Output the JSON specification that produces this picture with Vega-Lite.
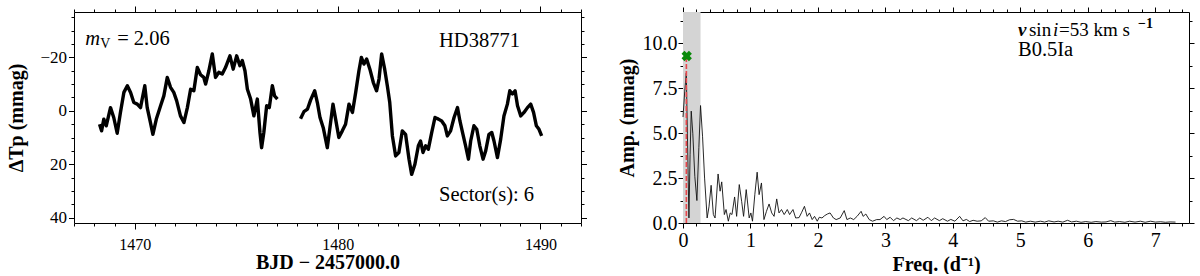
{
  "$schema": "https://vega.github.io/schema/vega-lite/v6.json",
  "padding": {"left": 6, "top": 5, "right": 5, "bottom": 0},
  "spacing": 102,
  "bounds": "flush",
  "config": {
    "font": "Liberation Serif",
    "view": {"stroke": null},
    "axis": {
      "grid": false, "domainColor": "black", "tickColor": "black", "labelColor": "black", "titleColor": "black",
      "labelFont": "Liberation Serif", "titleFont": "Liberation Serif", "labelFontSize": 16, "titleFontSize": 20,
      "titleFontWeight": "bold", "domainWidth": 1, "tickWidth": 1, "labelFlush": false, "labelOverlap": false
    },
    "text": {"font": "Liberation Serif", "color": "black"}
  },
  "hconcat": [
    {
      "width": 507, "height": 211,
      "data": {"values": [
        {"t":1468.26,"m":5.0,"s":1},{"t":1468.36,"m":7.5,"s":1},{"t":1468.47,"m":3.1,"s":1},{"t":1468.59,"m":5.6,"s":1},{"t":1468.80,"m":-1.2,"s":1},{"t":1468.96,"m":2.5,"s":1},{"t":1469.13,"m":8.4,"s":1},{"t":1469.29,"m":0.6,"s":1},{"t":1469.46,"m":-6.9,"s":1},{"t":1469.63,"m":-9.4,"s":1},{"t":1469.79,"m":-6.9,"s":1},{"t":1469.95,"m":-3.1,"s":1},{"t":1470.12,"m":-2.5,"s":1},{"t":1470.28,"m":-1.2,"s":1},{"t":1470.49,"m":-9.4,"s":1},{"t":1470.61,"m":-1.2,"s":1},{"t":1470.77,"m":4.4,"s":1},{"t":1470.89,"m":8.8,"s":1},{"t":1471.06,"m":3.1,"s":1},{"t":1471.27,"m":-1.9,"s":1},{"t":1471.43,"m":-5.6,"s":1},{"t":1471.60,"m":-12.5,"s":1},{"t":1471.76,"m":-8.8,"s":1},{"t":1471.92,"m":-6.9,"s":1},{"t":1472.06,"m":-3.8,"s":1},{"t":1472.25,"m":1.9,"s":1},{"t":1472.42,"m":4.4,"s":1},{"t":1472.59,"m":-1.2,"s":1},{"t":1472.75,"m":-8.1,"s":1},{"t":1472.91,"m":-7.5,"s":1},{"t":1473.08,"m":-16.2,"s":1},{"t":1473.24,"m":-13.5,"s":1},{"t":1473.40,"m":-12.5,"s":1},{"t":1473.49,"m":-10.0,"s":1},{"t":1473.65,"m":-15.0,"s":1},{"t":1473.82,"m":-21.3,"s":1},{"t":1473.98,"m":-12.5,"s":1},{"t":1474.14,"m":-14.4,"s":1},{"t":1474.31,"m":-13.8,"s":1},{"t":1474.47,"m":-16.2,"s":1},{"t":1474.69,"m":-20.6,"s":1},{"t":1474.85,"m":-15.6,"s":1},{"t":1475.02,"m":-20.6,"s":1},{"t":1475.18,"m":-16.9,"s":1},{"t":1475.30,"m":-18.8,"s":1},{"t":1475.43,"m":-15.0,"s":1},{"t":1475.55,"m":-8.1,"s":1},{"t":1475.71,"m":-4.4,"s":1},{"t":1475.87,"m":1.9,"s":1},{"t":1476.04,"m":-4.4,"s":1},{"t":1476.17,"m":8.1,"s":1},{"t":1476.25,"m":13.8,"s":1},{"t":1476.36,"m":8.1,"s":1},{"t":1476.50,"m":-1.9,"s":1},{"t":1476.63,"m":-1.2,"s":1},{"t":1476.78,"m":-9.4,"s":1},{"t":1476.89,"m":-5.6,"s":1},{"t":1477.03,"m":-4.4,"s":1},
        {"t":1478.17,"m":3.0,"s":2},{"t":1478.34,"m":0.3,"s":2},{"t":1478.51,"m":-0.6,"s":2},{"t":1478.67,"m":-4.1,"s":2},{"t":1478.87,"m":-7.5,"s":2},{"t":1479.00,"m":-3.1,"s":2},{"t":1479.13,"m":2.5,"s":2},{"t":1479.29,"m":6.3,"s":2},{"t":1479.49,"m":13.8,"s":2},{"t":1479.62,"m":6.3,"s":2},{"t":1479.77,"m":-2.5,"s":2},{"t":1479.90,"m":3.1,"s":2},{"t":1480.06,"m":10.0,"s":2},{"t":1480.23,"m":7.5,"s":2},{"t":1480.39,"m":5.0,"s":2},{"t":1480.56,"m":-2.5,"s":2},{"t":1480.73,"m":0.6,"s":2},{"t":1480.89,"m":-6.9,"s":2},{"t":1481.05,"m":-15.0,"s":2},{"t":1481.17,"m":-20.0,"s":2},{"t":1481.30,"m":-17.5,"s":2},{"t":1481.43,"m":-19.4,"s":2},{"t":1481.59,"m":-15.6,"s":2},{"t":1481.76,"m":-10.6,"s":2},{"t":1481.92,"m":-7.5,"s":2},{"t":1482.04,"m":-11.9,"s":2},{"t":1482.17,"m":-21.3,"s":2},{"t":1482.32,"m":-15.6,"s":2},{"t":1482.45,"m":-9.4,"s":2},{"t":1482.57,"m":-3.1,"s":2},{"t":1482.70,"m":9.4,"s":2},{"t":1482.86,"m":16.9,"s":2},{"t":1483.02,"m":15.6,"s":2},{"t":1483.19,"m":7.5,"s":2},{"t":1483.35,"m":8.8,"s":2},{"t":1483.52,"m":18.1,"s":2},{"t":1483.65,"m":23.8,"s":2},{"t":1483.81,"m":20.0,"s":2},{"t":1483.98,"m":13.1,"s":2},{"t":1484.09,"m":11.3,"s":2},{"t":1484.21,"m":15.6,"s":2},{"t":1484.34,"m":13.1,"s":2},{"t":1484.47,"m":14.4,"s":2},{"t":1484.64,"m":8.1,"s":2},{"t":1484.80,"m":2.5,"s":2},{"t":1484.97,"m":3.1,"s":2},{"t":1485.13,"m":3.8,"s":2},{"t":1485.29,"m":5.6,"s":2},{"t":1485.41,"m":9.4,"s":2},{"t":1485.57,"m":7.5,"s":2},{"t":1485.74,"m":2.5,"s":2},{"t":1485.91,"m":-1.2,"s":2},{"t":1486.03,"m":3.8,"s":2},{"t":1486.18,"m":8.8,"s":2},{"t":1486.31,"m":13.1,"s":2},{"t":1486.45,"m":18.1,"s":2},{"t":1486.56,"m":11.3,"s":2},{"t":1486.72,"m":5.6,"s":2},{"t":1486.86,"m":6.9,"s":2},{"t":1487.01,"m":13.1,"s":2},{"t":1487.17,"m":18.1,"s":2},{"t":1487.30,"m":15.0,"s":2},{"t":1487.46,"m":8.8,"s":2},{"t":1487.60,"m":8.1,"s":2},{"t":1487.71,"m":11.3,"s":2},{"t":1487.88,"m":17.5,"s":2},{"t":1488.04,"m":10.6,"s":2},{"t":1488.20,"m":1.9,"s":2},{"t":1488.37,"m":-2.5,"s":2},{"t":1488.49,"m":-7.5,"s":2},{"t":1488.62,"m":-6.3,"s":2},{"t":1488.75,"m":-7.5,"s":2},{"t":1488.87,"m":-1.9,"s":2},{"t":1489.03,"m":1.9,"s":2},{"t":1489.19,"m":0.6,"s":2},{"t":1489.36,"m":-1.2,"s":2},{"t":1489.52,"m":-2.5,"s":2},{"t":1489.66,"m":0.6,"s":2},{"t":1489.80,"m":5.6,"s":2},{"t":1489.93,"m":6.9,"s":2},{"t":1490.06,"m":9.4,"s":2}
      ]},
      "layer": [
        {
          "mark": {"type": "line", "color": "black", "strokeWidth": 3.4, "strokeJoin": "round"},
          "encoding": {
            "x": {"field": "t", "type": "quantitative", "scale": {"domain": [1467, 1492], "nice": false, "zero": false},
              "axis": {"orient": "bottom", "title": "BJD − 2457000.0",
                "values": [1467,1468,1469,1470,1471,1472,1473,1474,1475,1476,1477,1478,1479,1480,1481,1482,1483,1484,1485,1486,1487,1488,1489,1490,1491,1492],
                "labelExpr": "datum.value % 10 === 0 ? format(datum.value, 'd') : ''",
                "tickSize": {"condition": {"test": "datum.value % 10 === 0", "value": 6}, "value": 3},
                "labelFontSize": 16, "labelPadding": 7, "titlePadding": 0}},
            "y": {"field": "m", "type": "quantitative", "scale": {"domain": [-37, 42], "reverse": true, "nice": false, "zero": false},
              "axis": {"orient": "left", "title": "ΔTp (mmag)",
                "values": [-35,-30,-25,-20,-15,-10,-5,0,5,10,15,20,25,30,35,40],
                "labelExpr": "datum.value % 20 === 0 ? datum.label : ''",
                "tickSize": {"condition": {"test": "datum.value % 20 === 0", "value": 5.5}, "value": 3},
                "labelFontSize": 17, "labelPadding": 2, "titlePadding": 13}},
            "detail": {"field": "s", "type": "nominal"}
          }
        },
        {
          "data": {"values": [{"x": 1485.0, "y": -23.8, "label": "HD38771"}, {"x": 1485.0, "y": 33.9, "label": "Sector(s): 6"}]},
          "mark": {"type": "text", "align": "left", "baseline": "alphabetic", "fontSize": 20.5},
          "encoding": {
            "x": {"field": "x", "type": "quantitative",
              "axis": {"orient": "top", "title": null, "labels": false,
                "values": [1467,1468,1469,1470,1471,1472,1473,1474,1475,1476,1477,1478,1479,1480,1481,1482,1483,1484,1485,1486,1487,1488,1489,1490,1491,1492],
                "tickSize": {"condition": {"test": "datum.value % 10 === 0", "value": 6}, "value": 3}}},
            "y": {"field": "y", "type": "quantitative",
              "axis": {"orient": "right", "title": null, "labels": false,
                "values": [-35,-30,-25,-20,-15,-10,-5,0,5,10,15,20,25,30,35,40],
                "tickSize": {"condition": {"test": "datum.value % 20 === 0", "value": 5.5}, "value": 3}}},
            "text": {"field": "label"}
          }
        },
        {
          "data": {"values": [{"x": 1467.55, "y": -24.6, "label": "m"}]},
          "mark": {"type": "text", "align": "left", "baseline": "alphabetic", "fontSize": 20.5, "fontStyle": "italic"},
          "encoding": {"x": {"field": "x", "type": "quantitative", "axis": null}, "y": {"field": "y", "type": "quantitative", "axis": null}, "text": {"field": "label"}}
        },
        {
          "data": {"values": [{"x": 1467.55, "y": -24.6, "label": "V"}]},
          "mark": {"type": "text", "align": "left", "baseline": "alphabetic", "fontSize": 14, "dx": 15, "dy": 3},
          "encoding": {"x": {"field": "x", "type": "quantitative", "axis": null}, "y": {"field": "y", "type": "quantitative", "axis": null}, "text": {"field": "label"}}
        },
        {
          "data": {"values": [{"x": 1467.55, "y": -24.6, "label": "= 2.06"}]},
          "mark": {"type": "text", "align": "left", "baseline": "alphabetic", "fontSize": 20.5, "dx": 32},
          "encoding": {"x": {"field": "x", "type": "quantitative", "axis": null}, "y": {"field": "y", "type": "quantitative", "axis": null}, "text": {"field": "label"}}
        }
      ],
      "resolve": {"axis": {"x": "independent", "y": "independent"}}
    },
    {
      "width": 506, "height": 211,
      "layer": [
        {
          "data": {"values": [{"f0": 0, "f1": 0.26}]},
          "mark": {"type": "rect", "color": "#d4d4d4"},
          "encoding": {"x": {"field": "f0", "type": "quantitative", "axis": null}, "x2": {"field": "f1"}}
        },
        {
          "data": {"values": [
            {"f":0.0,"a":5.9},{"f":0.025,"a":7.3},{"f":0.049,"a":8.36},{"f":0.065,"a":5.0},{"f":0.088,"a":0.28},{"f":0.105,"a":3.8},{"f":0.122,"a":6.23},{"f":0.145,"a":5.0},{"f":0.175,"a":2.6},{"f":0.206,"a":1.25},{"f":0.235,"a":4.2},{"f":0.26,"a":6.54},{"f":0.29,"a":4.8},{"f":0.32,"a":2.5},{"f":0.358,"a":0.28},{"f":0.385,"a":0.9},{"f":0.417,"a":2.1},{"f":0.45,"a":0.47},{"f":0.475,"a":0.28},{"f":0.52,"a":2.73},{"f":0.55,"a":1.77},{"f":0.574,"a":2.29},{"f":0.613,"a":0.47},{"f":0.638,"a":0.75},{"f":0.672,"a":0.1},{"f":0.70,"a":0.56},{"f":0.726,"a":0.47},{"f":0.765,"a":1.45},{"f":0.795,"a":0.37},{"f":0.834,"a":2.14},{"f":0.869,"a":1.21},{"f":0.898,"a":0.37},{"f":0.937,"a":1.86},{"f":0.981,"a":0.28},{"f":1.006,"a":0.56},{"f":1.03,"a":0.1},{"f":1.065,"a":1.6},{"f":1.099,"a":2.83},{"f":1.128,"a":1.58},{"f":1.163,"a":2.23},{"f":1.20,"a":0.19},{"f":1.237,"a":0.65},{"f":1.276,"a":1.06},{"f":1.315,"a":0.56},{"f":1.35,"a":0.37},{"f":1.389,"a":1.34},{"f":1.423,"a":0.56},{"f":1.46,"a":0.75},{"f":1.50,"a":0.47},{"f":1.546,"a":0.75},{"f":1.58,"a":0.47},{"f":1.63,"a":0.75},{"f":1.67,"a":0.28},{"f":1.72,"a":0.3},{"f":1.76,"a":0.6},{"f":1.80,"a":0.93},{"f":1.84,"a":0.37},{"f":1.875,"a":0.56},{"f":1.915,"a":0.19},{"f":1.95,"a":0.37},{"f":1.99,"a":0.1},{"f":2.02,"a":0.32},{"f":2.06,"a":0.28},{"f":2.10,"a":0.41},{"f":2.14,"a":0.5},{"f":2.18,"a":0.56},{"f":2.23,"a":0.28},{"f":2.27,"a":0.19},{"f":2.33,"a":0.28},{"f":2.39,"a":0.69},{"f":2.43,"a":0.19},{"f":2.48,"a":0.28},{"f":2.53,"a":0.19},{"f":2.58,"a":0.37},{"f":2.64,"a":0.65},{"f":2.67,"a":0.37},{"f":2.71,"a":0.5},{"f":2.76,"a":0.19},{"f":2.81,"a":0.1},{"f":2.87,"a":0.19},{"f":2.92,"a":0.19},{"f":2.98,"a":0.37},{"f":3.02,"a":0.19},{"f":3.07,"a":0.32},{"f":3.12,"a":0.13},{"f":3.17,"a":0.28},{"f":3.22,"a":0.19},{"f":3.26,"a":0.28},{"f":3.34,"a":0.13},{"f":3.39,"a":0.28},{"f":3.46,"a":0.13},{"f":3.51,"a":0.28},{"f":3.56,"a":0.15},{"f":3.63,"a":0.32},{"f":3.68,"a":0.13},{"f":3.73,"a":0.28},{"f":3.80,"a":0.13},{"f":3.85,"a":0.24},{"f":3.92,"a":0.1},{"f":3.97,"a":0.2},{"f":4.03,"a":0.1},{"f":4.10,"a":0.37},{"f":4.15,"a":0.12},{"f":4.20,"a":0.2},{"f":4.25,"a":0.08},{"f":4.30,"a":0.15},{"f":4.36,"a":0.1},{"f":4.42,"a":0.12},{"f":4.48,"a":0.3},{"f":4.53,"a":0.1},{"f":4.60,"a":0.12},{"f":4.66,"a":0.05},{"f":4.72,"a":0.12},{"f":4.78,"a":0.08},{"f":4.84,"a":0.18},{"f":4.90,"a":0.2},{"f":4.96,"a":0.1},{"f":5.02,"a":0.12},{"f":5.08,"a":0.05},{"f":5.15,"a":0.1},{"f":5.22,"a":0.05},{"f":5.30,"a":0.1},{"f":5.36,"a":0.05},{"f":5.42,"a":0.12},{"f":5.50,"a":0.06},{"f":5.56,"a":0.1},{"f":5.63,"a":0.05},{"f":5.70,"a":0.15},{"f":5.76,"a":0.06},{"f":5.83,"a":0.1},{"f":5.90,"a":0.04},{"f":5.97,"a":0.08},{"f":6.05,"a":0.04},{"f":6.12,"a":0.08},{"f":6.20,"a":0.05},{"f":6.27,"a":0.06},{"f":6.34,"a":0.13},{"f":6.40,"a":0.05},{"f":6.47,"a":0.08},{"f":6.55,"a":0.04},{"f":6.62,"a":0.1},{"f":6.70,"a":0.05},{"f":6.78,"a":0.1},{"f":6.85,"a":0.04},{"f":6.93,"a":0.1},{"f":7.00,"a":0.05},{"f":7.08,"a":0.07},{"f":7.15,"a":0.04},{"f":7.22,"a":0.06},{"f":7.30,"a":0.05}
          ]},
          "mark": {"type": "line", "color": "#111111", "strokeWidth": 0.9},
          "encoding": {
            "x": {"field": "f", "type": "quantitative", "scale": {"domain": [0, 7.5], "nice": false, "zero": false},
              "axis": {"orient": "bottom", "title": "Freq. (d⁻¹)",
                "values": [0,0.2,0.4,0.6,0.8,1,1.2,1.4,1.6,1.8,2,2.2,2.4,2.6,2.8,3,3.2,3.4,3.6,3.8,4,4.2,4.4,4.6,4.8,5,5.2,5.4,5.6,5.8,6,6.2,6.4,6.6,6.8,7,7.2,7.4],
                "labelExpr": "datum.value % 1 === 0 ? format(datum.value, 'd') : ''",
                "tickSize": {"condition": {"test": "datum.value % 1 === 0", "value": 5}, "value": 3},
                "labelFontSize": 20, "labelPadding": 2, "titlePadding": 4}},
            "y": {"field": "a", "type": "quantitative", "scale": {"domain": [0, 11.75], "nice": false, "zero": false},
              "axis": {"orient": "left", "title": "Amp. (mmag)",
                "values": [0,1.25,2.5,3.75,5,6.25,7.5,8.75,10,11.25],
                "labelExpr": "datum.value % 2.5 === 0 ? format(datum.value, '.1f') : ''",
                "tickSize": {"condition": {"test": "datum.value % 2.5 === 0", "value": 5}, "value": 3},
                "labelFontSize": 20, "labelPadding": 1, "titlePadding": 5}}
          }
        },
        {
          "data": {"values": [{"f": 0.05, "a0": 0, "a1": 9.2}]},
          "mark": {"type": "rule", "color": "#e8474c", "strokeWidth": 1.6, "strokeDash": [5, 2]},
          "encoding": {
            "x": {"field": "f", "type": "quantitative",
              "axis": {"orient": "top", "title": null, "labels": false,
                "values": [0,0.2,0.4,0.6,0.8,1,1.2,1.4,1.6,1.8,2,2.2,2.4,2.6,2.8,3,3.2,3.4,3.6,3.8,4,4.2,4.4,4.6,4.8,5,5.2,5.4,5.6,5.8,6,6.2,6.4,6.6,6.8,7,7.2,7.4],
                "tickSize": {"condition": {"test": "datum.value % 1 === 0", "value": 5}, "value": 3}}},
            "y": {"field": "a0", "type": "quantitative",
              "axis": {"orient": "right", "title": null, "labels": false,
                "values": [0,1.25,2.5,3.75,5,6.25,7.5,8.75,10,11.25],
                "tickSize": {"condition": {"test": "datum.value % 2.5 === 0", "value": 5}, "value": 3}}},
            "y2": {"field": "a1"}
          }
        },
        {
          "data": {"values": [{"f": 0.055, "a": 9.3}]},
          "mark": {"type": "point", "shape": "cross", "angle": 45, "filled": true, "color": "#0a8a0a", "size": 110, "opacity": 1},
          "encoding": {"x": {"field": "f", "type": "quantitative", "axis": null}, "y": {"field": "a", "type": "quantitative", "axis": null}}
        },
        {
          "data": {"values": [{"x": 4.965, "y": 10.41, "label": "v"}]},
          "mark": {"type": "text", "align": "left", "baseline": "alphabetic", "fontSize": 19, "fontStyle": "italic", "fontWeight": "bold"},
          "encoding": {"x": {"field": "x", "type": "quantitative", "axis": null}, "y": {"field": "y", "type": "quantitative", "axis": null}, "text": {"field": "label"}}
        },
        {
          "data": {"values": [{"x": 4.965, "y": 10.41, "label": "sin"}]},
          "mark": {"type": "text", "align": "left", "baseline": "alphabetic", "fontSize": 19, "dx": 11},
          "encoding": {"x": {"field": "x", "type": "quantitative", "axis": null}, "y": {"field": "y", "type": "quantitative", "axis": null}, "text": {"field": "label"}}
        },
        {
          "data": {"values": [{"x": 4.965, "y": 10.41, "label": "i"}]},
          "mark": {"type": "text", "align": "left", "baseline": "alphabetic", "fontSize": 19, "fontStyle": "italic", "dx": 35},
          "encoding": {"x": {"field": "x", "type": "quantitative", "axis": null}, "y": {"field": "y", "type": "quantitative", "axis": null}, "text": {"field": "label"}}
        },
        {
          "data": {"values": [{"x": 4.965, "y": 10.41, "label": "=53 km s"}]},
          "mark": {"type": "text", "align": "left", "baseline": "alphabetic", "fontSize": 19, "dx": 41},
          "encoding": {"x": {"field": "x", "type": "quantitative", "axis": null}, "y": {"field": "y", "type": "quantitative", "axis": null}, "text": {"field": "label"}}
        },
        {
          "data": {"values": [{"x": 4.965, "y": 10.41, "label": "−1"}]},
          "mark": {"type": "text", "align": "left", "baseline": "alphabetic", "fontSize": 14, "fontWeight": "bold", "dx": 120, "dy": -8},
          "encoding": {"x": {"field": "x", "type": "quantitative", "axis": null}, "y": {"field": "y", "type": "quantitative", "axis": null}, "text": {"field": "label"}}
        },
        {
          "data": {"values": [{"x": 4.965, "y": 9.29, "label": "B0.5Ia"}]},
          "mark": {"type": "text", "align": "left", "baseline": "alphabetic", "fontSize": 20.5},
          "encoding": {"x": {"field": "x", "type": "quantitative", "axis": null}, "y": {"field": "y", "type": "quantitative", "axis": null}, "text": {"field": "label"}}
        }
      ],
      "resolve": {"axis": {"x": "independent", "y": "independent"}}
    }
  ]
}
